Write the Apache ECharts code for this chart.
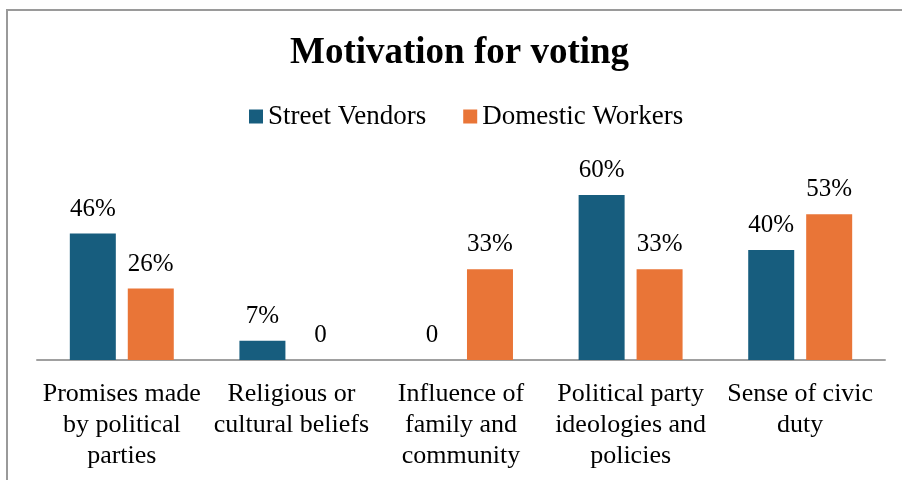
<!DOCTYPE html>
<html>
<head>
<meta charset="utf-8">
<script src="https://cdn.jsdelivr.net/npm/echarts@6/dist/echarts.min.js"></script>
<style>
  html, body { margin: 0; padding: 0; background: #fff; }
  #chart { position: absolute; left: 0; top: 0; width: 902px; height: 480px; }
  #frame { position: absolute; left: 6px; top: 9px; width: 1000px; height: 600px;
           border-left: 2px solid #9a9a9a; border-top: 2px solid #9a9a9a; pointer-events: none; }
</style>
</head>
<body>
<div id="chart"></div>
<div id="frame"></div>
<script>
const categories = [
  'Promises made\nby political\nparties',
  'Religious or\ncultural beliefs',
  'Influence of\nfamily and\ncommunity',
  'Political party\nideologies and\npolicies',
  'Sense of civic\nduty'
];
const streetVendors = [46, 7, 0, 60, 40];
const domesticWorkers = [26, 0, 33, 33, 53];

const serif = '"Liberation Serif", "Times New Roman", serif';

const pctLabel = {
  show: true,
  position: 'top',
  distance: 12,
  color: '#000',
  fontFamily: serif,
  fontSize: 25,
  formatter: p => (p.value === 0 ? '0' : p.value + '%')
};

const chart = echarts.init(document.getElementById('chart'), null, { renderer: 'canvas' });
chart.setOption({
  animation: false,
  backgroundColor: '#fff',
  title: {
    text: 'Motivation for voting',
    left: 285,
    top: 30,
    textStyle: { fontFamily: serif, fontSize: 37, fontWeight: 'bold', color: '#000' }
  },
  legend: {
    left: 244,
    top: 98,
    icon: 'rect',
    itemWidth: 14,
    itemHeight: 14,
    itemGap: 37,
    textStyle: { fontFamily: serif, fontSize: 27, color: '#000' },
    data: ['Street Vendors', 'Domestic Workers']
  },
  grid: { left: 37, right: 17, top: 85, bottom: 120, containLabel: false },
  xAxis: {
    type: 'category',
    data: categories,
    axisLine: { show: true, lineStyle: { color: '#a0a0a0', width: 2 } },
    axisTick: { show: false },
    axisLabel: {
      interval: 0,
      margin: 19,
      color: '#000',
      fontFamily: serif,
      fontSize: 26,
      lineHeight: 31
    }
  },
  yAxis: {
    type: 'value',
    min: 0,
    max: 100,
    show: false,
    splitLine: { show: false }
  },
  series: [
    {
      name: 'Street Vendors',
      type: 'bar',
      data: streetVendors,
      barWidth: 46,
      barGap: '26%',
      itemStyle: { color: '#175d7e' },
      label: pctLabel
    },
    {
      name: 'Domestic Workers',
      type: 'bar',
      data: domesticWorkers,
      barWidth: 46,
      itemStyle: { color: '#e97537' },
      label: pctLabel
    }
  ]
});
</script>
</body>
</html>
